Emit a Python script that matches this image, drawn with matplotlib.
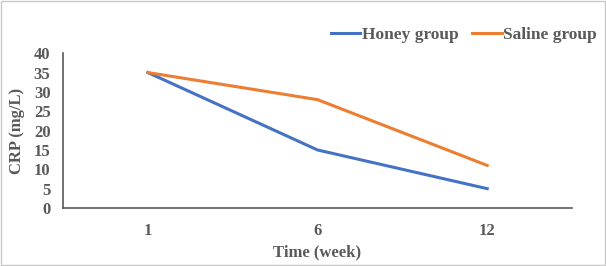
import matplotlib
matplotlib.use("Agg")
import matplotlib.pyplot as plt
from matplotlib.patches import Rectangle

weeks = ["1", "6", "12"]
honey = [35, 15, 5]
saline = [35, 28, 11]

plt.rcParams['font.family'] = ['Liberation Serif', 'DejaVu Serif']
plt.rcParams['font.weight'] = 'bold'
txt = "#595959"

fig = plt.figure(figsize=(6.06, 2.66), dpi=100)
ax = fig.add_axes([0.104, 0.218, 0.84, 0.582])

x = range(len(weeks))
ax.plot(x, honey, color="#4472C4", lw=2.2, label="Honey group")
ax.plot(x, saline, color="#ED7D31", lw=2.2, label="Saline group")

ax.set_xlim(-0.5, 2.5)
ax.set_ylim(0, 40)
ax.set_yticks(range(0, 41, 5))
ax.set_xticks(list(x))
ax.set_xticklabels(weeks)
ax.tick_params(length=0, labelsize=12, colors=txt)
ax.tick_params(axis="y", pad=9)
ax.tick_params(axis="x", pad=11)
for s in ["top", "right"]:
    ax.spines[s].set_visible(False)
for s in ["left", "bottom"]:
    ax.spines[s].set_color("#595959")
    ax.spines[s].set_linewidth(1.2)

ax.set_xlabel("Time (week)", fontsize=12, color=txt, fontweight="bold", labelpad=4)
ax.set_ylabel("CRP (mg/L)", fontsize=12, color=txt, fontweight="bold", labelpad=6)

leg = fig.legend(loc="center left", bbox_to_anchor=(0.546, 0.868), ncol=2, frameon=False,
                 fontsize=12.5, handlelength=1.7, handletextpad=0.08, columnspacing=0.8,
                 borderpad=0, borderaxespad=0)
for t in leg.get_texts():
    t.set_color(txt)

fig.patches.append(Rectangle((0.002, 0.004), 0.996, 0.992, transform=fig.transFigure,
                             fill=False, edgecolor="#C8C8C8", lw=1.0))

fig.savefig("out.png", dpi=100)
